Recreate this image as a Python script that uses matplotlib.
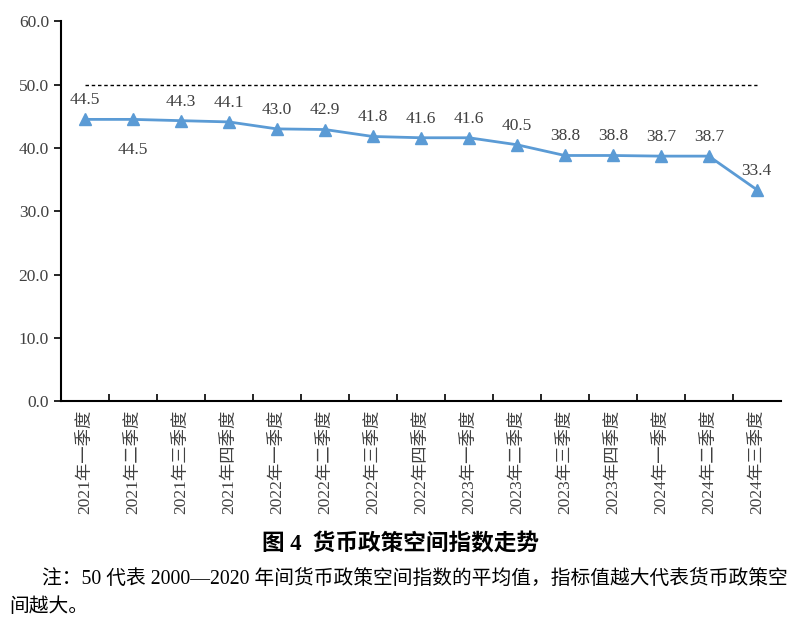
import matplotlib
matplotlib.use("Agg")
import matplotlib.pyplot as plt

plt.rcParams['font.family'] = ['Liberation Serif', 'Noto Sans CJK SC']

quarters = ['2021年一季度', '2021年二季度', '2021年三季度', '2021年四季度',
            '2022年一季度', '2022年二季度', '2022年三季度', '2022年四季度',
            '2023年一季度', '2023年二季度', '2023年三季度', '2023年四季度',
            '2024年一季度', '2024年二季度', '2024年三季度']
index_values = [44.5, 44.5, 44.3, 44.1, 43.0, 42.9, 41.8, 41.6, 41.6, 40.5,
                38.8, 38.8, 38.7, 38.7, 33.4]
avg_level = 50
y_ticks = [0, 10, 20, 30, 40, 50, 60]

fig = plt.figure(figsize=(8, 6.24), dpi=100)
ax = fig.add_axes([0.076, 0.357, 0.9, 0.609])

x = list(range(len(quarters)))
ax.plot(x, index_values, color='#5B9BD5', lw=2, marker='^', ms=8, zorder=3)
ax.plot([x[0], x[-1]], [avg_level, avg_level], color='black', lw=1,
        ls=(0, (2.5, 2)))

for i, v in enumerate(index_values):
    if i == 1:
        ax.annotate(f'{v:.1f}', (i, v), xytext=(0, -16), textcoords='offset points',
                    ha='center', va='top', fontsize=12.5, color='#404040')
    else:
        ax.annotate(f'{v:.1f}', (i, v), xytext=(0, 8), textcoords='offset points',
                    ha='center', va='bottom', fontsize=12.5, color='#404040')

ax.set_xlim(-0.5, len(quarters) - 0.5)
ax.set_ylim(0, 60)
ax.set_yticks(y_ticks)
ax.set_yticklabels([f'{t:.1f}' for t in y_ticks], fontsize=12.5, color='#404040')
ax.set_xticks([i + 0.5 for i in range(len(quarters) - 1)])
ax.set_xticklabels([])
ax.set_xticks(x, minor=True)
ax.set_xticklabels(quarters, minor=True, rotation=90, fontsize=12.5, color='#404040')
ax.tick_params(axis='x', which='major', direction='in', length=5, width=1.2)
ax.tick_params(axis='x', which='minor', length=0, pad=6)
ax.tick_params(axis='y', direction='out', length=5, width=1.2)
for s in ['top', 'right']:
    ax.spines[s].set_visible(False)
ax.spines['left'].set_linewidth(1.5)
ax.spines['bottom'].set_linewidth(1.5)

fig.text(0.5, 0.127, '图 4  货币政策空间指数走势', ha='center', va='center',
         fontsize=16.3, fontweight='bold')
fig.text(0.052, 0.07, '注：50 代表 2000—2020 年间货币政策空间指数的平均值，指标值越大代表货币政策空',
         ha='left', va='center', fontsize=14.2)
fig.text(0.012, 0.027, '间越大。', ha='left', va='center', fontsize=14.2)

fig.savefig('out.png', dpi=100)
